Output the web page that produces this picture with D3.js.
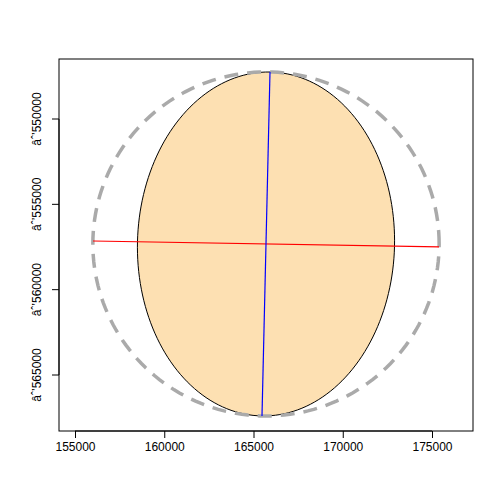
<!DOCTYPE html><html><head><script src="https://cdn.jsdelivr.net/npm/d3@7"></script>
<style>body{margin:0;background:#fff}</style></head><body><svg id="c" width="504" height="504"></svg>
<script>
const xTicks=[155000,160000,165000,170000,175000];
const yTicks=[-550000,-555000,-560000,-565000];
const center=[165700,-557323];
const majorVec=[224,10076];
const minorVec=[7200,-130];
const circleR=[9700,10080];
const redLine=[[156008,-557147],[175392,-557498]];
const blueLine=[[165924,-547247],[165476,-567399]];
const svg=d3.select("#c");
const L=59,R=473,T=59,B=431;
const x=d3.scaleLinear().domain([155000,175000]).range([75,432]);
const y=d3.scaleLinear().domain([-550000,-565000]).range([119,375]);
const pts=d3.range(0,361,2).map(a=>{const t=a*Math.PI/180;return [center[0]+majorVec[0]*Math.cos(t)+minorVec[0]*Math.sin(t),center[1]+majorVec[1]*Math.cos(t)+minorVec[1]*Math.sin(t)];});
const line=d3.line().x(d=>x(d[0])).y(d=>y(d[1]));
svg.append("path").attr("d",line(pts)+"Z").attr("fill","#fde0b2").attr("stroke","#000").attr("stroke-width",1);
const cp=d3.range(0,361,2).map(a=>{const t=a*Math.PI/180;return [center[0]+circleR[0]*Math.cos(t),center[1]+circleR[1]*Math.sin(t)];});
svg.append("path").attr("d",line(cp)+"Z").attr("fill","none").attr("stroke","#aaa").attr("stroke-width",3.5).attr("stroke-dasharray","14,9");
svg.append("path").attr("d",line(redLine)).attr("stroke","red").attr("stroke-width",1.2);
svg.append("path").attr("d",line(blueLine)).attr("stroke","blue").attr("stroke-width",1.2);
svg.append("rect").attr("x",L).attr("y",T).attr("width",R-L).attr("height",B-T).attr("fill","none").attr("stroke","#000");
svg.append("g").attr("transform",`translate(0,${B})`).call(d3.axisBottom(x).tickValues(xTicks).tickFormat(d3.format("d")).tickSize(7).tickPadding(4))
 .call(g=>{g.select(".domain").attr("d",`M${x(155000)},0H${x(175000)}`);g.selectAll("text").attr("font-size",12).attr("font-family","Liberation Sans, Arial");});
const ya=svg.append("g").attr("transform",`translate(${L},0)`).call(d3.axisLeft(y).tickValues(yTicks).tickFormat(d3.format("d")).tickSize(7))
 .call(g=>{g.select(".domain").attr("d",`M0,${y(-550000)}V${y(-565000)}`);});
ya.selectAll("text").attr("font-size",12).attr("font-family","Liberation Sans, Arial").attr("transform","rotate(-90)").attr("x",0).attr("y",-18).attr("dy",0).attr("text-anchor","middle")
 .each(function(d){d3.select(this).attr("transform",`translate(-18,${y(d)}) rotate(-90)`).attr("x",0).attr("y",0);});
ya.selectAll(".tick").attr("transform","translate(0,0)");
ya.selectAll(".tick line").each(function(d){d3.select(this).attr("y1",y(d)).attr("y2",y(d));});
</script></body></html>
